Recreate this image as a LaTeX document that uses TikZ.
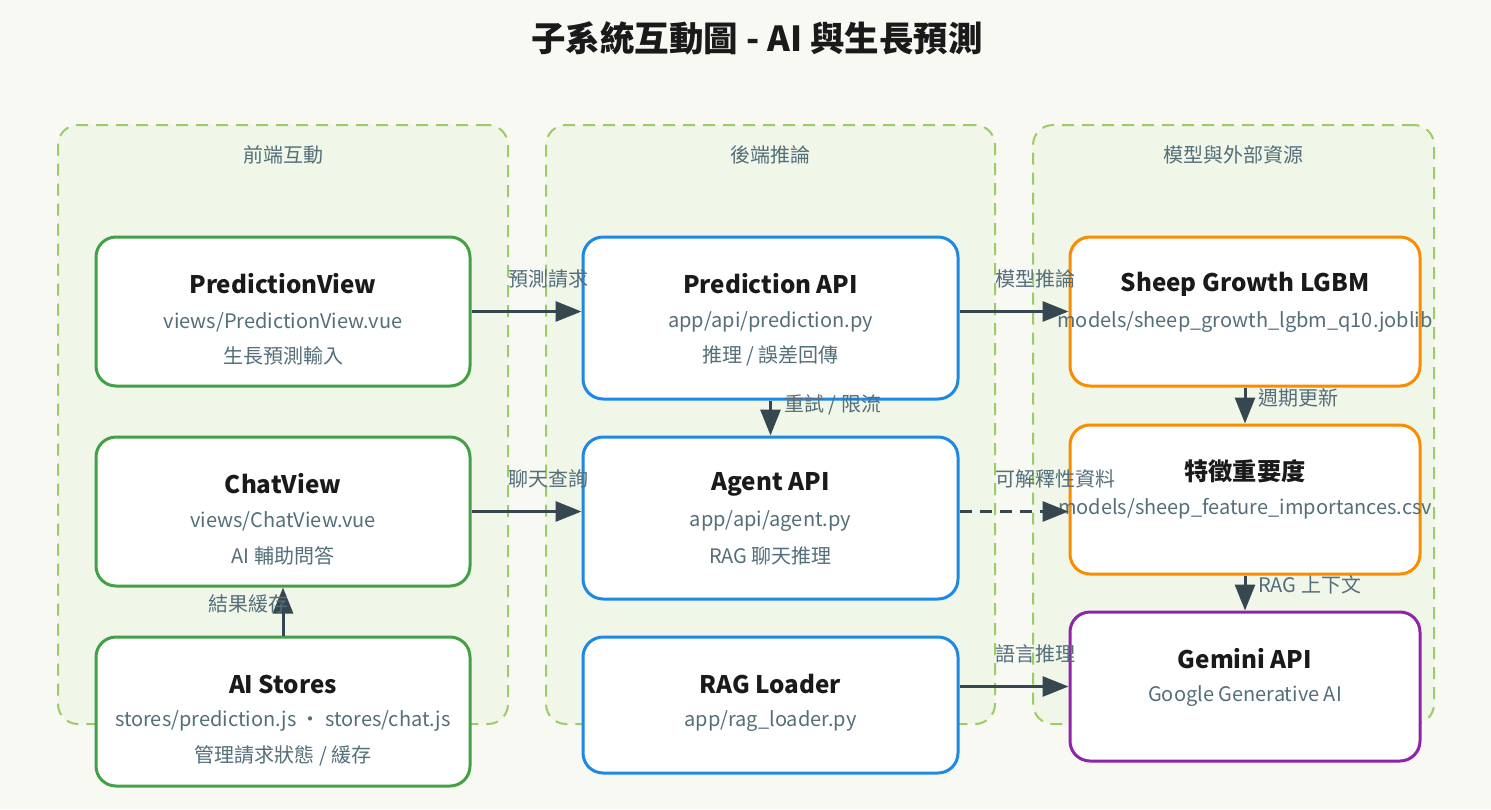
\documentclass[tikz,border=0pt]{standalone}
\usepackage{fontspec}
\setmainfont{Noto Sans CJK TC}
\usetikzlibrary{arrows.meta}
\definecolor{bg}{HTML}{F8F9F3}
\definecolor{panelfill}{HTML}{F0F6E8}
\definecolor{paneldraw}{HTML}{9CCC65}
\definecolor{gline}{HTML}{43A047}
\definecolor{bline}{HTML}{1E88E5}
\definecolor{oline}{HTML}{FB8C00}
\definecolor{pline}{HTML}{8E24AA}
\definecolor{txtgrey}{HTML}{546E7A}
\definecolor{txtdark}{HTML}{1A1A1A}
\definecolor{arrowc}{HTML}{37474F}
\tikzset{
  panel/.style={draw=paneldraw, fill=panelfill, line width=2pt, dash pattern=on 12pt off 8pt, rounded corners=20pt, inner sep=0pt},
  box/.style={fill=white, line width=3pt, rounded corners=20pt, inner sep=0pt},
  gbox/.style={box, draw=gline},
  bbox/.style={box, draw=bline},
  obox/.style={box, draw=oline},
  pbox/.style={box, draw=pline},
  ttl/.style={text=txtdark, font=\fontsize{24.2}{28}\selectfont\bfseries, inner sep=0pt},
  sub/.style={text=txtgrey, font=\fontsize{20}{24}\selectfont, inner sep=0pt},
  elab/.style={text=txtgrey, font=\fontsize{20}{24}\selectfont, inner sep=0pt, anchor=west},
  conn/.style={draw=arrowc, line width=3pt, -{Triangle[length=26pt,width=20pt]}},
}
\begin{document}
\begin{tikzpicture}[x=1pt,y=-1pt]
\useasboundingbox[fill=bg] (0,0) rectangle (1491,809);
\node[text=txtdark, font=\fontsize{34.5}{40}\selectfont\bfseries, inner sep=0pt] (title) at (757,38) {子系統互動圖 - AI 與生長預測};

% panels
\node[panel, minimum width=450pt, minimum height=599pt] (p1) at (283,424.5) {};
\node[panel, minimum width=449pt, minimum height=599pt] (p2) at (770.5,424.5) {};
\node[panel, minimum width=401pt, minimum height=599pt] (p3) at (1233.5,424.5) {};
\node[sub] (p1l) at (283,155) {前端互動};
\node[sub] (p2l) at (770.5,155) {後端推論};
\node[sub] (p3l) at (1233.5,155) {模型與外部資源};

% boxes
\node[gbox, minimum width=374pt, minimum height=149pt] (pv) at (283,311.5) {};
\node[gbox, minimum width=374pt, minimum height=149pt] (cv) at (283,511.5) {};
\node[gbox, minimum width=374pt, minimum height=149pt] (st) at (283,711.5) {};
\node[bbox, minimum width=375pt, minimum height=162pt] (pa) at (770.5,318) {};
\node[bbox, minimum width=375pt, minimum height=162pt] (ag) at (770.5,518) {};
\node[bbox, minimum width=375pt, minimum height=136pt] (rl) at (770.5,705) {};
\node[obox, minimum width=350pt, minimum height=149pt] (sg) at (1245,311.5) {};
\node[obox, minimum width=350pt, minimum height=149pt] (fi) at (1245,499.5) {};
\node[pbox, minimum width=350pt, minimum height=149pt] (gm) at (1245,686.5) {};

% box texts
\node[ttl] (pvt) at (283,284) {PredictionView};
\node[sub] (pvs) at (283,322) {views/PredictionView.vue};
\node[sub] (pvd) at (283,356) {生長預測輸入};
\node[ttl] (cvt) at (283,484) {ChatView};
\node[sub] (cvs) at (283,521) {views/ChatView.vue};
\node[sub] (cvd) at (283,556) {AI 輔助問答};
\node[ttl] (stt) at (283,684) {AI Stores};
\node[sub] (sts) at (283,721) {stores/prediction.js ・ stores/chat.js};
\node[sub] (std) at (283,756) {管理請求狀態 / 緩存};
\node[ttl] (pat) at (770.5,284) {Prediction API};
\node[sub] (pas) at (770.5,322) {app/api/prediction.py};
\node[sub] (pad) at (770.5,356) {推理 / 誤差回傳};
\node[ttl] (agt) at (770.5,484) {Agent API};
\node[sub] (ags) at (770.5,521) {app/api/agent.py};
\node[sub] (agd) at (770.5,556) {RAG 聊天推理};
\node[ttl] (rlt) at (770.5,684) {RAG Loader};
\node[sub] (rls) at (770.5,721) {app/rag\_loader.py};
\node[ttl] (sgt) at (1245,284) {Sheep Growth LGBM};
\node[sub] (sgs) at (1245,322) {models/sheep\_growth\_lgbm\_q10.joblib};
\node[ttl] (fit) at (1245,471) {特徵重要度};
\node[sub] (fis) at (1245,509) {models/sheep\_feature\_importances.csv};
\node[ttl] (gmt) at (1245,659) {Gemini API};
\node[sub] (gms) at (1245,696) {Google Generative AI};

% connectors
\draw[conn] (pv.east) -- (pv.east -| pa.west);
\draw[conn] (cv.east) -- (cv.east -| ag.west);
\draw[conn] (pv.east -| pa.east) -- (pv.east -| sg.west);
\draw[conn, dash pattern=on 12pt off 8pt] (cv.east -| ag.east) -- (cv.east -| fi.west);
\draw[conn] (gm.west -| rl.east) -- (gm.west);
\draw[conn] (pa.south) -- (ag.north);
\draw[conn] (sg.south) -- (fi.north);
\draw[conn] (fi.south) -- (gm.north);
\draw[conn] (st.north) -- (cv.south);

% connector labels
\node[elab] (l1) at (508,279) {預測請求};
\node[elab] (l2) at (508,479) {聊天查詢};
\node[elab] (l3) at (995,279) {模型推論};
\node[elab] (l4) at (995,479) {可解釋性資料};
\node[elab] (l5) at (995,654) {語言推理};
\node[elab] (l6) at (784,405) {重試 / 限流};
\node[elab] (l7) at (1258,398) {週期更新};
\node[elab] (l8) at (1258,585) {RAG 上下文};
\node[elab] (l9) at (208,604) {結果緩存};
\end{tikzpicture}
\end{document}
